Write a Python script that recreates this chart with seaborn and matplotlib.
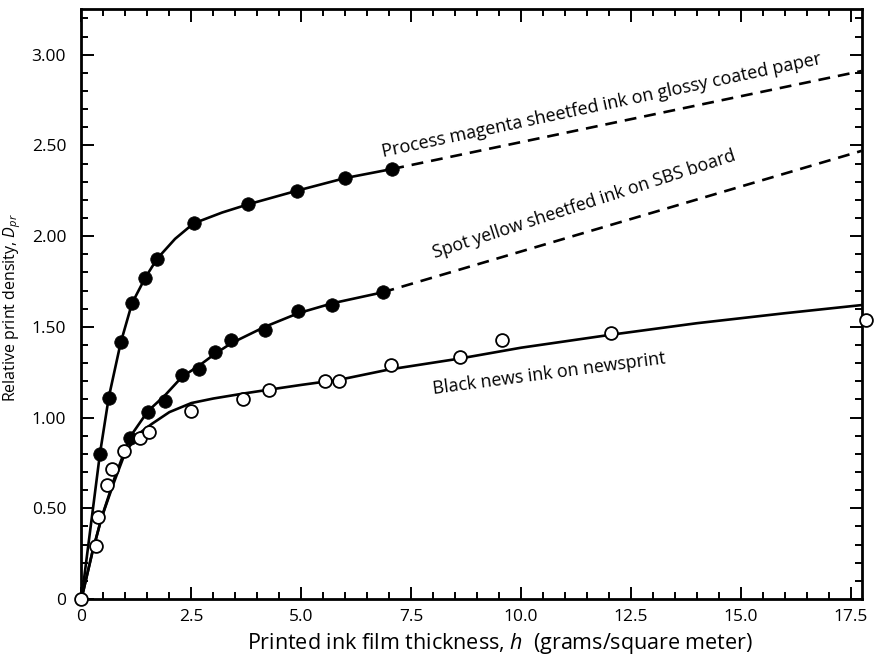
import matplotlib
matplotlib.use("Agg")
import matplotlib.pyplot as plt
import seaborn as sns
from matplotlib.ticker import MultipleLocator

# ---- measured points ----
mag_x = [0.42, 0.62, 0.89, 1.15, 1.45, 1.72, 2.55, 3.79, 4.90, 6.00, 7.07]
mag_y = [0.80, 1.11, 1.415, 1.63, 1.77, 1.875, 2.07, 2.175, 2.25, 2.32, 2.37]

yel_x = [1.11, 1.51, 1.91, 2.29, 2.67, 3.03, 3.41, 4.17, 4.93, 5.71, 6.85]
yel_y = [0.89, 1.03, 1.09, 1.235, 1.27, 1.36, 1.43, 1.485, 1.59, 1.62, 1.69]

news_x = [0, 0.32, 0.37, 0.57, 0.70, 0.96, 1.34, 1.53, 2.49, 3.68, 4.26,
          5.55, 5.87, 7.04, 8.61, 9.56, 12.04, 17.84]
news_y = [0, 0.29, 0.45, 0.63, 0.714, 0.815, 0.888, 0.921, 1.035, 1.10, 1.15,
          1.20, 1.20, 1.29, 1.333, 1.425, 1.466, 1.54]

# ---- fitted curves ----
mag_curve_x = [0, 0.42, 0.62, 0.89, 1.15, 1.45, 1.72, 2.13, 2.55, 3.2, 3.79, 4.9, 6.0, 7.07]
mag_curve_y = [0, 0.80, 1.11, 1.41, 1.63, 1.77, 1.875, 1.985, 2.07, 2.13, 2.175, 2.25, 2.32, 2.37]
mag_dash_x = [7.07, 17.75]
mag_dash_y = [2.37, 2.91]

yel_curve_x = [0, 0.25, 0.46, 0.75, 0.99, 1.11, 1.51, 1.91, 2.29, 2.67, 3.03, 3.41, 4.17, 4.93, 5.71, 6.85]
yel_curve_y = [0, 0.26, 0.45, 0.665, 0.82, 0.895, 1.035, 1.125, 1.225, 1.285, 1.35, 1.41, 1.50, 1.575, 1.63, 1.69]
yel_dash_x = [6.85, 17.75]
yel_dash_y = [1.69, 2.47]

news_curve_x = [0, 0.25, 0.46, 0.75, 1.0, 1.3, 1.6, 2.0, 2.5, 3.0, 3.7, 4.3, 5.0, 5.9,
                7.0, 8.6, 10.0, 12.0, 14.0, 16.0, 17.75]
news_curve_y = [0, 0.26, 0.45, 0.65, 0.81, 0.91, 0.965, 1.03, 1.08, 1.105, 1.133, 1.155, 1.18, 1.21,
                1.265, 1.325, 1.385, 1.455, 1.52, 1.575, 1.62]

x_ticks = [0, 2.5, 5.0, 7.5, 10.0, 12.5, 15.0, 17.5]
x_ticklabels = ["0", "2.5", "5.0", "7.5", "10.0", "12.5", "15.0", "17.5"]
y_ticks = [0, 0.5, 1.0, 1.5, 2.0, 2.5, 3.0]
y_ticklabels = ["0", "0.50", "1.00", "1.50", "2.00", "2.50", "3.00"]

sns.set_style("ticks")
FONT = "Open Sans"
plt.rcParams["font.family"] = [FONT, "DejaVu Sans"]
plt.rcParams["text.color"] = "black"
plt.rcParams["axes.labelcolor"] = "black"
plt.rcParams["mathtext.fontset"] = "custom"
plt.rcParams["mathtext.rm"] = FONT
plt.rcParams["mathtext.it"] = FONT + ":italic"

fig = plt.figure(figsize=(8.75, 6.6), dpi=100)
ax = fig.add_axes([0.0931, 0.0924, 0.8917, 0.8935])

lw = 1.9
dash = (0, (4.5, 3))
sns.lineplot(x=mag_curve_x, y=mag_curve_y, sort=False, estimator=None, color="black", lw=lw, ax=ax)
sns.lineplot(x=mag_dash_x, y=mag_dash_y, sort=False, estimator=None, color="black", lw=lw,
             linestyle=dash, ax=ax)
sns.lineplot(x=yel_curve_x, y=yel_curve_y, sort=False, estimator=None, color="black", lw=lw, ax=ax)
sns.lineplot(x=yel_dash_x, y=yel_dash_y, sort=False, estimator=None, color="black", lw=lw,
             linestyle=dash, ax=ax)
sns.lineplot(x=news_curve_x, y=news_curve_y, sort=False, estimator=None, color="black", lw=lw, ax=ax)

sns.scatterplot(x=mag_x, y=mag_y, s=95, color="black", edgecolor="black", linewidth=0.5, zorder=4, ax=ax)
sns.scatterplot(x=yel_x, y=yel_y, s=95, color="black", edgecolor="black", linewidth=0.5, zorder=4, ax=ax)
sns.scatterplot(x=news_x, y=news_y, s=85, color="white", edgecolor="black", linewidth=1.3,
                zorder=5, clip_on=False, ax=ax)

ax.set_xlim(0, 17.75)
ax.set_ylim(0, 3.25)
ax.set_xticks(x_ticks)
ax.set_xticklabels(x_ticklabels)
ax.set_yticks(y_ticks)
ax.set_yticklabels(y_ticklabels)
ax.xaxis.set_minor_locator(MultipleLocator(0.5))
ax.yaxis.set_minor_locator(MultipleLocator(0.1))
ax.tick_params(which="both", direction="in", top=True, right=True, colors="black",
               labelsize=12.5, width=1.4)
ax.tick_params(which="major", length=9)
ax.tick_params(which="minor", length=5)
ax.tick_params(axis="x", which="major", pad=7)
ax.tick_params(axis="y", which="major", pad=11)
for sp in ax.spines.values():
    sp.set_linewidth(2.0)
    sp.set_color("black")

ax.set_xlabel(r"Printed ink film thickness, $\mathit{h}$  (grams/square meter)", fontsize=15.5)
ax.xaxis.set_label_coords(0.5365, -0.055)
ax.set_ylabel(r"Relative print density, $\mathit{D}_{\mathit{pr}}$", fontsize=11.5)
ax.yaxis.set_label_coords(-0.075, 0.494)

ax.text(11.83, 2.72, "Process magenta sheetfed ink on glossy coated paper", fontsize=13,
        rotation=12.0, rotation_mode="anchor", ha="center", va="center")
ax.text(11.44, 2.175, "Spot yellow sheetfed ink on SBS board", fontsize=12.8,
        rotation=18.0, rotation_mode="anchor", ha="center", va="center")
ax.text(10.65, 1.24, "Black news ink on newsprint", fontsize=12.8,
        rotation=7.5, rotation_mode="anchor", ha="center", va="center")

fig.savefig("out.png", dpi=100)
